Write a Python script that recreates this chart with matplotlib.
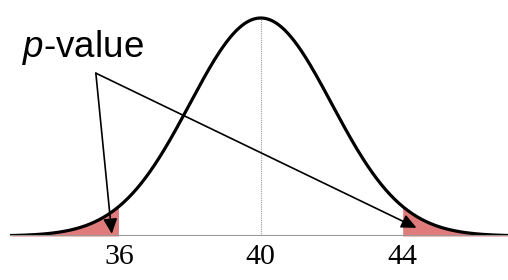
import numpy as np
import matplotlib
matplotlib.use("Agg")
import matplotlib.pyplot as plt

plt.rcParams["mathtext.fontset"] = "custom"
plt.rcParams["mathtext.it"] = "Liberation Sans:italic"
plt.rcParams["mathtext.rm"] = "Liberation Sans"

mean = 40
sd = 2
tick_values = [36, 40, 44]
tick_labels = ["36", "40", "44"]
lower_cut = 36
upper_cut = 44
x_range = (32.93, 46.97)
label_text = "$\\mathit{p}$-value"

fig = plt.figure(figsize=(5.08, 2.8), dpi=100)
ax = fig.add_axes([10/508, 44/280, 498/508, 236/280])

x = np.linspace(x_range[0], x_range[1], 800)
y = np.exp(-0.5 * ((x - mean) / sd) ** 2) / (sd * np.sqrt(2 * np.pi))
peak = 1 / (sd * np.sqrt(2 * np.pi))

ax.fill_between(x, 0, y, where=x <= lower_cut, color="#E07B7B", lw=0)
ax.fill_between(x, 0, y, where=x >= upper_cut, color="#E07B7B", lw=0)
ax.plot([mean, mean], [0, peak], color="#999999", lw=0.8, ls=(0, (1, 1)))
ax.plot(x, y, color="black", lw=2.3, solid_capstyle="butt")
ax.axhline(0, color="#999999", lw=1.5)

ax.set_xlim(*x_range)
ax.set_ylim(0, peak * 236 / 218)
ax.set_xticks(tick_values)
ax.set_xticklabels(tick_labels, family="Liberation Serif", fontsize=21.5)
ax.tick_params(axis="x", length=0, pad=6)
ax.set_yticks([])
for s in ax.spines.values():
    s.set_visible(False)

start = (35.35, 0.149)
for tip in [(35.80, 0.002), (44.39, 0.0075)]:
    ax.annotate("", xy=tip, xytext=start,
                arrowprops=dict(arrowstyle="-|>,head_length=0.9,head_width=0.42",
                                color="black", lw=1.2, shrinkA=0, shrinkB=0))

fig.text(22/508, (280-57)/280, label_text, family="Liberation Sans",
         fontsize=26.5, va="baseline", ha="left")

fig.savefig("out.png", dpi=100)
